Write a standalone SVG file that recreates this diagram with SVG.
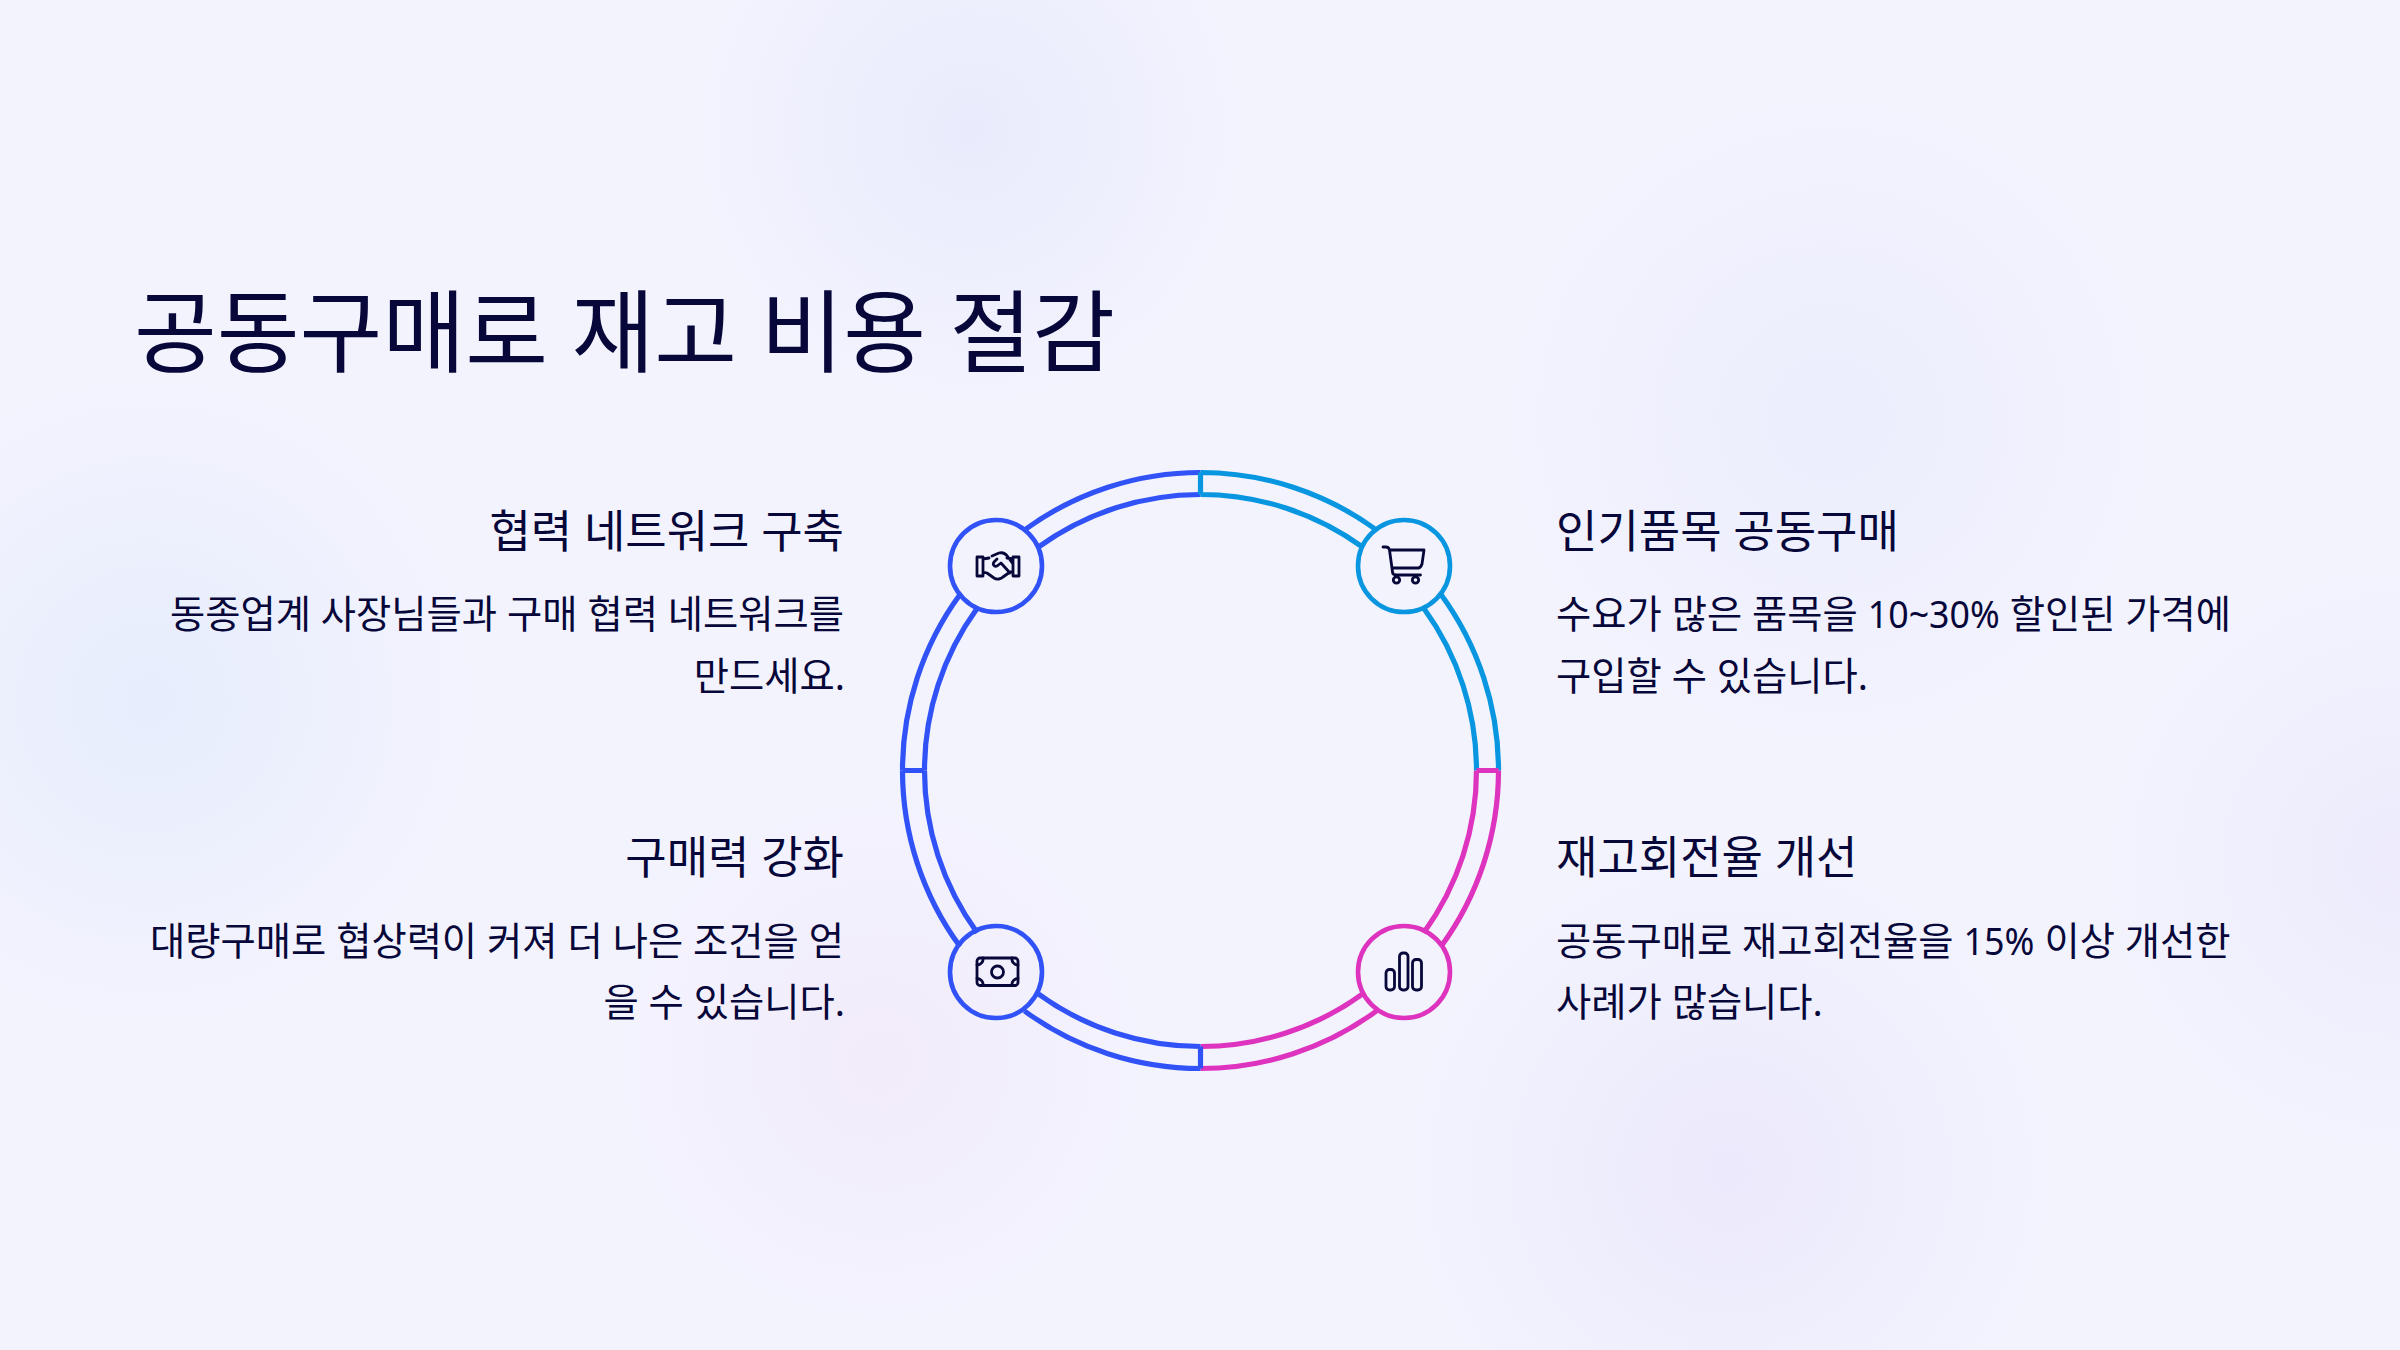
<svg xmlns="http://www.w3.org/2000/svg" width="2400" height="1350" viewBox="0 0 2400 1350">
<style>
text{font-family:"Noto Sans","Noto Sans CJK KR",sans-serif;fill:#07073a}
.t{font-size:90px}.h{font-size:45px}.b{font-size:38.3px}.e{text-anchor:end}
.seg{fill:none;stroke-width:5.2;stroke-linejoin:round}
.n{fill:none;stroke-width:4.6}
.i{fill:none;stroke:#07073a;stroke-width:2.8;stroke-linecap:round;stroke-linejoin:round}
.blue{stroke:#3052f6}.sky{stroke:#0896e0}.mag{stroke:#dd33be}
</style>
<defs>
<radialGradient id="g1"><stop offset="0" stop-color="#e9ebfc"/><stop offset="1" stop-color="#e9ebfc" stop-opacity="0"/></radialGradient>
<radialGradient id="g2"><stop offset="0" stop-color="#e6edfc"/><stop offset="1" stop-color="#e6edfc" stop-opacity="0"/></radialGradient>
<radialGradient id="g3"><stop offset="0" stop-color="#ebe9fb"/><stop offset="1" stop-color="#ebe9fb" stop-opacity="0"/></radialGradient>
<radialGradient id="g4"><stop offset="0" stop-color="#f2ebfa"/><stop offset="1" stop-color="#f2ebfa" stop-opacity="0"/></radialGradient>
</defs>
<rect width="2400" height="1350" fill="#f3f3fe"/>
<circle cx="970" cy="130" r="270" fill="url(#g1)"/>
<circle cx="150" cy="700" r="320" fill="url(#g2)"/>
<circle cx="1830" cy="420" r="320" fill="url(#g1)" opacity=".7"/>
<circle cx="1730" cy="1170" r="320" fill="url(#g3)"/>
<circle cx="880" cy="1060" r="260" fill="url(#g4)"/>
<circle cx="2400" cy="860" r="290" fill="url(#g3)" opacity=".8"/>
<text id="title" class="t" x="134" y="365">공동구매로 재고 비용 절감</text>
<g id="connectors" transform="translate(0.5 0.5)">
<path class="seg blue" d="M902 770H924M924 770A276 276 0 0 1 976.7 607.8M902 770A298 298 0 0 1 959.5 594M1024 529.5A298 298 0 0 1 1200 472M1037.8 546.7A276 276 0 0 1 1200 494"/>
<path class="seg sky" d="M1200 472V494M1200 472A298 298 0 0 1 1376 529.5M1200 494A276 276 0 0 1 1362.2 546.7M1440.5 594A298 298 0 0 1 1498 770M1423.3 607.8A276 276 0 0 1 1476 770"/>
<path class="seg mag" d="M1498 770H1476M1498 770A298 298 0 0 1 1440.5 946M1476 770A276 276 0 0 1 1423.3 932.2M1376 1010.5A298 298 0 0 1 1200 1068M1362.2 993.3A276 276 0 0 1 1200 1046"/>
<path class="seg blue" d="M1200 1068V1046M1200 1068A298 298 0 0 1 1024 1010.5M1200 1046A276 276 0 0 1 1037.8 993.3M959.5 946A298 298 0 0 1 902 770M976.7 932.2A276 276 0 0 1 924 770"/>
</g>
<g id="node-network">
<circle class="n blue" cx="996" cy="566" r="46"/>
<g class="i"><path d="M977 557h6v19h-6zM1013 557h6v19h-6zM983 559l6-1M1013 559l-6-1M983 572l4 1 7 5c3 2 7 1 9-1l7-5 3-1M992 556l7-3c4-1 7 1 9 4l5 7M997 559l-3 3c-2 3 1 5 3 4l4-3 9 10"/></g>
<text class="h e" x="844" y="548">협력 네트워크 구축</text>
<text class="b e" x="844" y="628">동종업계 사장님들과 구매 협력 네트워크를</text>
<text class="b e" x="845" y="690">만드세요.</text>
</g>
<g id="node-cart">
<circle class="n sky" cx="1404" cy="566" r="46"/>
<g class="i"><path d="M1383 547h3c2 0 3 1 3.500 3l3 22c0 2 2 3 4 3h24M1390 550h34l-2 14c-1 3-2 4-4 4h-26"/><circle cx="1396.500" cy="580" r="3.200"/><circle cx="1415.500" cy="580" r="3.200"/></g>
<text class="h" x="1556" y="548">인기품목 공동구매</text>
<text class="b" x="1556" y="628">수요가 많은 품목을 <tspan textLength="132" lengthAdjust="spacingAndGlyphs">10~30%</tspan> 할인된 가격에</text>
<text class="b" x="1556" y="690">구입할 수 있습니다.</text>
</g>
<g id="node-money">
<circle class="n blue" cx="996" cy="972" r="46"/>
<g class="i"><rect x="977" y="958" width="41" height="27.500" rx="3"/><circle cx="997.500" cy="972" r="6"/><path d="M977 965a6 6 0 0 0 6-7M1018 965a6 6 0 0 1-6-7M977 978.500a6 6 0 0 1 6 7M1018 978.500a6 6 0 0 0-6 7"/></g>
<text class="h e" x="844" y="874">구매력 강화</text>
<text class="b e" x="844" y="955">대량구매로 협상력이 커져 더 나은 조건을 얻</text>
<text class="b e" x="845" y="1016">을 수 있습니다.</text>
</g>
<g id="node-chart">
<circle class="n mag" cx="1404" cy="972" r="46"/>
<g class="i"><rect x="1386" y="969.500" width="8.500" height="20.500" rx="3.500"/><rect x="1399.500" y="953" width="8.500" height="37" rx="3.500"/><rect x="1412.500" y="959.500" width="9" height="30.500" rx="3.500"/></g>
<text class="h" x="1556" y="874">재고회전율 개선</text>
<text class="b" x="1556" y="955">공동구매로 재고회전율을 <tspan textLength="71" lengthAdjust="spacingAndGlyphs">15%</tspan> 이상 개선한</text>
<text class="b" x="1556" y="1016">사례가 많습니다.</text>
</g>
</svg>
